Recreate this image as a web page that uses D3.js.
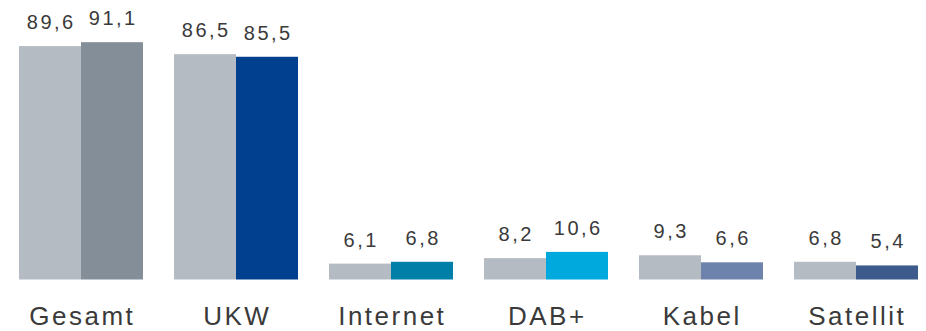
<!DOCTYPE html>
<html><head><meta charset="utf-8">
<script src="https://cdn.jsdelivr.net/npm/d3@7"></script>
<style>html,body{margin:0;padding:0;background:#fff;}</style>
</head><body>
<svg id="chart" width="926" height="331"></svg>
<script>
const categories = ["Gesamt", "UKW", "Internet", "DAB+", "Kabel", "Satellit"];
const series1 = [89.6, 86.5, 6.1, 8.2, 9.3, 6.8];
const series2 = [91.1, 85.5, 6.8, 10.6, 6.6, 5.4];
const color1 = "#b5bbc3";
const colors2 = ["#838e99", "#00408f", "#0080a8", "#00a9dd", "#6e83ab", "#3d5a8c"];
const fmt = v => v.toFixed(1).replace(".", ",");

const svg = d3.select("#chart");
const x = d3.scaleBand().domain(categories).range([3.5, 933.5]).paddingInner(0.2).paddingOuter(0.1);
const xs = d3.scaleBand().domain([0, 1]).range([0, x.bandwidth()]);
const y = d3.scaleLinear().domain([0, 100]).range([279.5, 19]);

const g = svg.selectAll("g.grp").data(categories).join("g")
  .attr("transform", d => `translate(${x(d)},0)`);

const seriesData = (c, i) => [
  {s: 0, v: series1[i], col: color1},
  {s: 1, v: series2[i], col: colors2[i]}
];

g.each(function(c, i) {
  const gg = d3.select(this);
  const d = seriesData(c, i);
  gg.selectAll("rect").data(d).join("rect")
    .attr("x", e => xs(e.s))
    .attr("width", xs.bandwidth())
    .attr("y", e => y(e.v))
    .attr("height", e => y(0) - y(e.v))
    .attr("fill", e => e.col);
  gg.selectAll("text.val").data(d).join("text")
    .attr("class", "val")
    .attr("x", e => xs(e.s) + xs.bandwidth() / 2 + 1.25)
    .attr("y", e => y(e.v) - 17)
    .attr("text-anchor", "middle")
    .attr("font-family", "Liberation Sans, Arial, sans-serif")
    .attr("font-size", 20)
    .attr("letter-spacing", 2.5)
    .attr("fill", "#3a3a3a")
    .text(e => fmt(e.v));
});

svg.selectAll("text.cat").data(categories).join("text")
  .attr("class", "cat")
  .attr("x", d => x(d) + x.bandwidth() / 2 + 1.25)
  .attr("y", 325)
  .attr("text-anchor", "middle")
  .attr("font-family", "Liberation Sans, Arial, sans-serif")
  .attr("font-size", 26)
  .attr("letter-spacing", 2.5)
  .attr("fill", "#3a3a3a")
  .text(d => d);
</script>
</body></html>
